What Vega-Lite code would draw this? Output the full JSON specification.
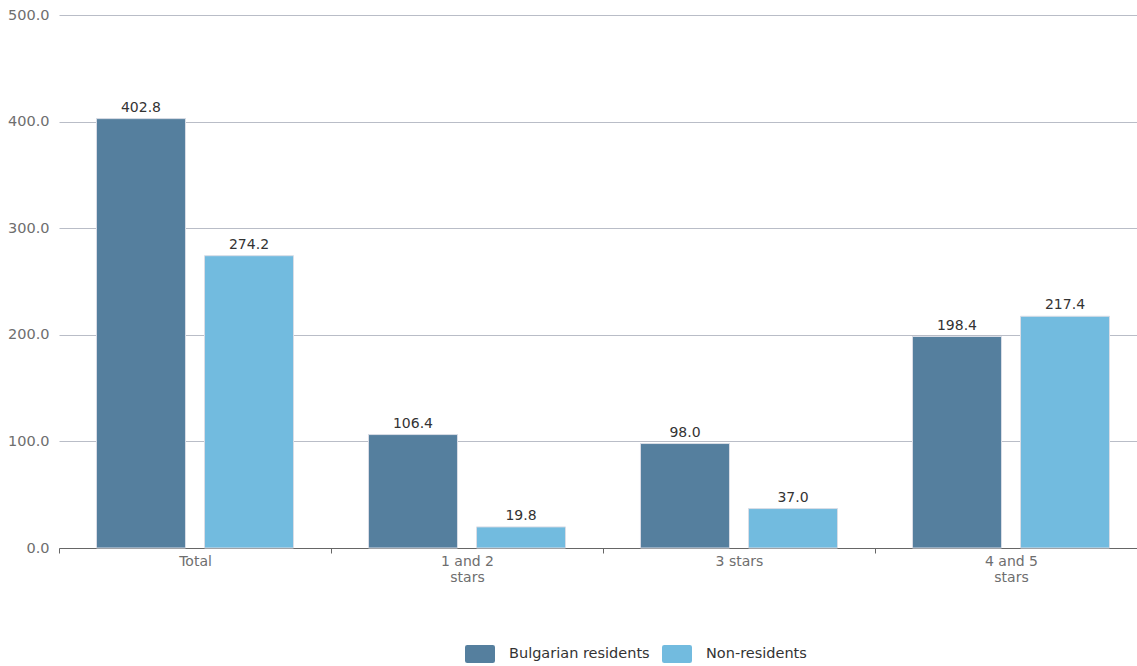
{
  "$schema": "https://vega.github.io/schema/vega-lite/v6.json",
  "width": 1088,
  "height": 533,
  "autosize": {"type": "none"},
  "padding": {"left": 59, "top": 15, "right": 0, "bottom": 118},
  "background": "white",
  "config": {
    "font": "DejaVu Sans",
    "view": {"stroke": null}
  },
  "data": {
    "values": [
      {"category": "Total", "group": "Bulgarian residents", "value": 402.8},
      {"category": "Total", "group": "Non-residents", "value": 274.2},
      {"category": "1 and 2 stars", "group": "Bulgarian residents", "value": 106.4},
      {"category": "1 and 2 stars", "group": "Non-residents", "value": 19.8},
      {"category": "3 stars", "group": "Bulgarian residents", "value": 98.0},
      {"category": "3 stars", "group": "Non-residents", "value": 37.0},
      {"category": "4 and 5 stars", "group": "Bulgarian residents", "value": 198.4},
      {"category": "4 and 5 stars", "group": "Non-residents", "value": 217.4}
    ]
  },
  "encoding": {
    "x": {
      "field": "category",
      "type": "nominal",
      "sort": ["Total", "1 and 2 stars", "3 stars", "4 and 5 stars"],
      "scale": {"paddingInner": 0, "paddingOuter": 0},
      "axis": {
        "title": null,
        "labelAngle": 0,
        "labelFont": "DejaVu Sans",
        "labelFontSize": 14,
        "labelColor": "#6e6e6e",
        "labelPadding": 1,
        "labelLineHeight": 16,
        "tickBand": "extent",
        "tickColor": "#666666",
        "tickSize": 5,
        "domainColor": "#666666",
        "labelExpr": "indexof(datum.label, ' and ') >= 0 ? [slice(datum.label, 0, 7), 'stars'] : datum.label"
      }
    },
    "xOffset": {
      "field": "group",
      "type": "nominal",
      "scale": {"paddingInner": 0.176, "paddingOuter": 0.347}
    },
    "y": {
      "field": "value",
      "type": "quantitative",
      "scale": {"domain": [0, 500], "nice": false},
      "axis": {
        "title": null,
        "values": [0, 100, 200, 300, 400, 500],
        "format": ".1f",
        "domain": false,
        "ticks": false,
        "labelPadding": 10,
        "labelFont": "DejaVu Sans",
        "labelFontSize": 14.5,
        "labelColor": "#6e6e6e",
        "gridColor": "#b9bdc7",
        "gridWidth": 1
      }
    }
  },
  "layer": [
    {
      "mark": {"type": "bar", "stroke": "#d9dde6", "strokeWidth": 1},
      "encoding": {
        "color": {
          "field": "group",
          "type": "nominal",
          "scale": {
            "domain": ["Bulgarian residents", "Non-residents"],
            "range": ["#557f9e", "#72bbdf"]
          },
          "legend": {
            "title": null,
            "orient": "none",
            "direction": "horizontal",
            "legendX": 406,
            "legendY": 624,
            "labelFont": "DejaVu Sans",
            "labelFontSize": 14.5,
            "labelColor": "#333333",
            "symbolType": "M-0.85,-0.6H0.85Q1,-0.6 1,-0.45V0.45Q1,0.6 0.85,0.6H-0.85Q-1,0.6 -1,0.45V-0.45Q-1,-0.6 -0.85,-0.6Z",
            "symbolSize": 900,
            "symbolStrokeWidth": 0,
            "labelOffset": 14,
            "columnPadding": 12
          }
        }
      }
    },
    {
      "mark": {"type": "text", "dy": -11, "fontSize": 14, "font": "DejaVu Sans", "color": "#333333"},
      "encoding": {
        "text": {"field": "value", "type": "quantitative", "format": ".1f"}
      }
    }
  ]
}
